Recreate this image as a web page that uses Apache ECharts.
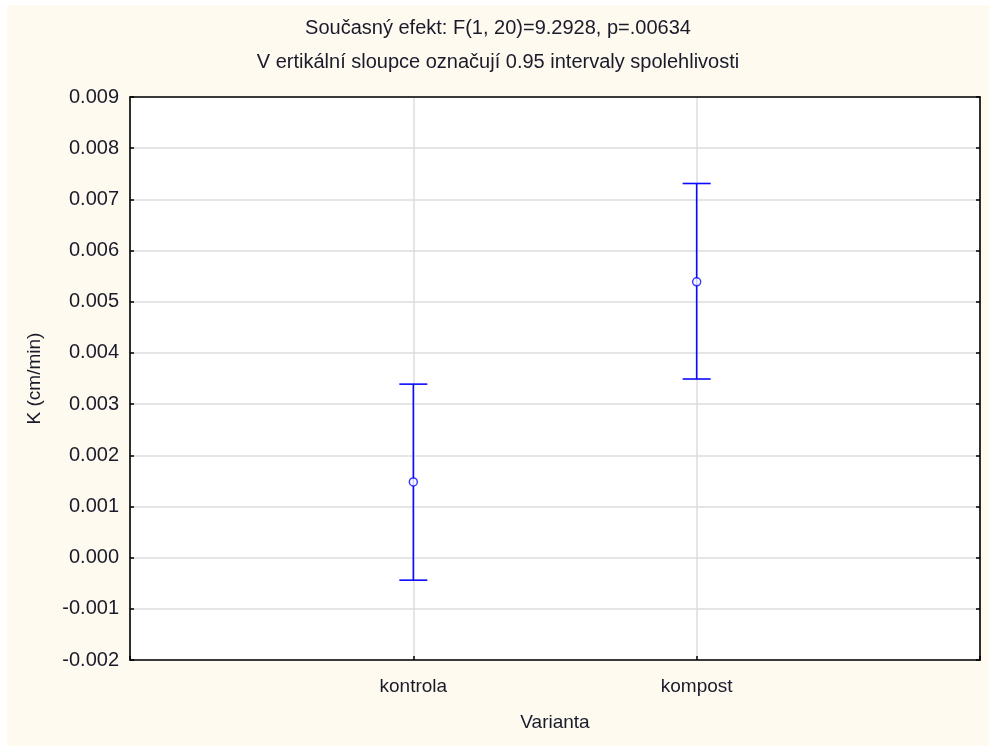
<!DOCTYPE html>
<html><head><meta charset="utf-8">
<script src="https://cdn.jsdelivr.net/npm/echarts@6/dist/echarts.min.js"></script>
<style>
html,body{margin:0;padding:0;background:#ffffff;width:989px;height:746px;overflow:hidden;}
#c{position:absolute;left:7px;top:5px;width:982px;height:741px;background:#fefaf0;}
</style></head>
<body><div id="c"></div>
<script>
const categories = ['kontrola', 'kompost'];
const means = [0.00148, 0.00539];
const lower = [-0.00044, 0.00349];
const upper = [0.00339, 0.00731];
const yTicks = ['-0.002','-0.001','0.000','0.001','0.002','0.003','0.004','0.005','0.006','0.007','0.008','0.009'];
const titleText = 'Současný efekt: F(1, 20)=9.2928, p=.00634';
const subText = 'V ertikální sloupce označují 0.95 intervaly spolehlivosti';

const chart = echarts.init(document.getElementById('c'), null, {renderer:'canvas'});
const font = 'Liberation Sans, Arial, sans-serif';
const errData = categories.map((c,i)=>[i+1, lower[i], upper[i]]);
const meanData = categories.map((c,i)=>[i+1, means[i]]);
const blue = '#0a0aff';
const txt = '#1a1a2a';
const boxLine = {show:true, onZero:false, lineStyle:{color:'#000', width:1.6}};
chart.setOption({
  animation:false,
  backgroundColor:'#fefaf0',
  title:{
    text:titleText, subtext:subText, left:'center', top:8, itemGap:14,
    textStyle:{fontFamily:font, fontSize:20, fontWeight:'normal', color:txt},
    subtextStyle:{fontFamily:font, fontSize:20, color:txt}
  },
  grid:{left:123, top:92, right:9, bottom:86, show:true, backgroundColor:'#ffffff', borderWidth:0},
  xAxis:[{
    type:'value', min:0, max:3, interval:1, position:'bottom',
    name:'Varianta', nameLocation:'middle', nameGap:53,
    nameTextStyle:{fontFamily:font, fontSize:19, color:txt},
    axisLine:boxLine,
    axisTick:{show:true, inside:true, length:4, lineStyle:{color:'#000', width:1.5}},
    axisLabel:{fontFamily:font, fontSize:19, color:txt, margin:17,
      formatter:v=> (v>=1 && v<=categories.length) ? categories[v-1] : ''},
    splitLine:{show:true, lineStyle:{color:'#dcdcdc', width:1.5}}
  },{
    type:'value', min:0, max:3, interval:1, position:'top',
    axisLine:boxLine, axisTick:{show:false}, axisLabel:{show:false}, splitLine:{show:false}
  }],
  yAxis:[{
    type:'value', min:-0.002, max:0.009, interval:0.001,
    name:'K (cm/min)', nameLocation:'middle', nameGap:86, nameRotate:90,
    nameTextStyle:{fontFamily:font, fontSize:19, color:txt},
    axisLine:boxLine,
    axisTick:{show:true, inside:true, length:4, lineStyle:{color:'#000', width:1.5}},
    axisLabel:{fontFamily:font, fontSize:20, color:txt, margin:11,
      formatter:(v)=>{const i=Math.round((v+0.002)/0.001); return yTicks[i];}},
    splitLine:{show:true, lineStyle:{color:'#dcdcdc', width:1.5}}
  },{
    type:'value', min:-0.002, max:0.009, interval:0.001, position:'right',
    axisLine:boxLine,
    axisTick:{show:true, inside:true, length:4, lineStyle:{color:'#000', width:1.5}},
    axisLabel:{show:false}, splitLine:{show:false}
  }],
  series:[{
    type:'custom',
    data:errData,
    renderItem:(params, api)=>{
      const x = api.value(0);
      const lo = api.coord([x, api.value(1)]);
      const hi = api.coord([x, api.value(2)]);
      const hw = 14;
      const st = {stroke:blue, lineWidth:1.6};
      return {type:'group', children:[
        {type:'line', shape:{x1:lo[0], y1:lo[1], x2:hi[0], y2:hi[1]}, style:st},
        {type:'line', shape:{x1:lo[0]-hw, y1:lo[1], x2:lo[0]+hw, y2:lo[1]}, style:st},
        {type:'line', shape:{x1:hi[0]-hw, y1:hi[1], x2:hi[0]+hw, y2:hi[1]}, style:st}
      ]};
    },
    z:2
  },{
    type:'scatter',
    data:meanData,
    symbol:'circle', symbolSize:8,
    itemStyle:{color:'#ffffff', borderColor:blue, borderWidth:1.5},
    z:3
  }]
});
</script></body></html>
